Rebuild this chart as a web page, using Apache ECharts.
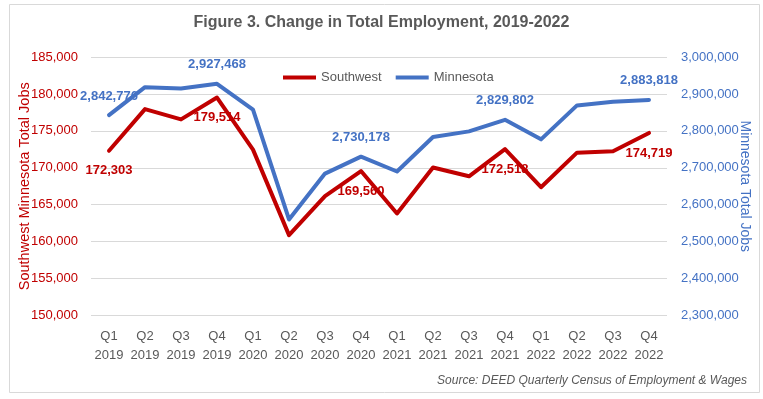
<!DOCTYPE html>
<html>
<head>
<meta charset="utf-8">
<script src="https://cdn.jsdelivr.net/npm/echarts@6/dist/echarts.min.js"></script>
<style>
  html, body { margin: 0; padding: 0; background: #fff; }
  #chart { width: 763px; height: 399px; }
</style>
</head>
<body>
<div id="chart"></div>
<script>
    /* =================== data ============================================ */
    var quarters = ['Q1\n2019', 'Q2\n2019', 'Q3\n2019', 'Q4\n2019',
                    'Q1\n2020', 'Q2\n2020', 'Q3\n2020', 'Q4\n2020',
                    'Q1\n2021', 'Q2\n2021', 'Q3\n2021', 'Q4\n2021',
                    'Q1\n2022', 'Q2\n2022', 'Q3\n2022', 'Q4\n2022'];

    var southwest = [172303, 177950, 176550, 179514,
                     172460, 160880, 166150, 169560,
                     163810, 170030, 168850, 172518,
                     167370, 172050, 172230, 174719];

    var minnesota = [2842776, 2918400, 2914900, 2927468,
                     2857300, 2560000, 2684300, 2730178,
                     2690000, 2783200, 2798600, 2829802,
                     2777000, 2868900, 2878900, 2883818];

    // quarters that carry a value label
    var labelled = [0, 3, 7, 11, 15];

    var leftTicks = { min: 150000, max: 185000, step: 5000 };
    var rightTicks = { min: 2300000, max: 3000000, step: 100000 };

    var FONT = 'Liberation Sans';
    var RED = '#C00000';
    var BLUE = '#4472C4';
    var GREY = '#595959';

    function fmt(v) {
        return Number(v).toLocaleString('en-US');
    }

    function withLabels(values, pos, color) {
        return values.map(function (v, i) {
            return {
                value: v,
                label: {
                    show: labelled.indexOf(i) >= 0,
                    position: pos,
                    distance: pos === 'top' ? 12 : 13,
                    color: color,
                    fontFamily: FONT,
                    fontWeight: 'bold',
                    fontSize: 13,
                    formatter: function (p) { return fmt(p.value); }
                }
            };
        });
    }

    var myChart = echarts.init(document.getElementById('chart'));

    var option = {
        backgroundColor: '#fff',
        animation: false,
        textStyle: { fontFamily: FONT },
        title: [
            {
                text: 'Figure 3. Change in Total Employment, 2019-2022',
                left: 'center',
                top: 10,
                textStyle: { color: GREY, fontSize: 16, fontWeight: 'bold', fontFamily: FONT }
            },
            {
                text: 'Source: DEED Quarterly Census of Employment & Wages',
                right: 11,
                top: 370,
                textStyle: { color: GREY, fontSize: 12, fontStyle: 'italic', fontWeight: 'normal', fontFamily: FONT }
            }
        ],
        graphic: [
            {
                type: 'rect',
                shape: { x: 9.5, y: 4.5, width: 750, height: 388 },
                style: { fill: 'none', stroke: '#D9D9D9', lineWidth: 1 },
                silent: true
            }
        ],
        legend: {
            data: ['Southwest', 'Minnesota'],
            left: 278,
            top: 66,
            icon: 'rect',
            itemWidth: 33,
            itemHeight: 4,
            itemGap: 14,
            textStyle: { color: GREY, fontSize: 13, fontFamily: FONT }
        },
        grid: {
            left: 91,
            right: 96,
            top: 57,
            bottom: 83.5,
            outerBoundsMode: 'none'
        },
        xAxis: {
            type: 'category',
            boundaryGap: true,
            data: quarters,
            axisLine: { show: false },
            axisTick: { show: false },
            axisLabel: {
                interval: 0,
                color: GREY,
                fontSize: 13,
                lineHeight: 19,
                margin: 11,
                fontFamily: FONT
            }
        },
        yAxis: [
            {
                type: 'value',
                position: 'left',
                min: leftTicks.min,
                max: leftTicks.max,
                interval: leftTicks.step,
                name: 'Southwest Minnesota Total Jobs',
                nameLocation: 'middle',
                nameGap: 59,
                nameMoveOverlap: false,
                nameTextStyle: { color: RED, fontSize: 14.5, fontFamily: FONT },
                axisLine: { show: false },
                axisTick: { show: false },
                axisLabel: { color: RED, fontSize: 13, margin: 13, formatter: fmt, fontFamily: FONT },
                splitLine: { lineStyle: { color: '#D9D9D9', width: 1 } }
            },
            {
                type: 'value',
                position: 'right',
                min: rightTicks.min,
                max: rightTicks.max,
                interval: rightTicks.step,
                name: 'Minnesota Total Jobs',
                nameLocation: 'middle',
                nameRotate: -90,
                nameGap: 71,
                nameMoveOverlap: false,
                nameTextStyle: { color: BLUE, fontSize: 14, fontFamily: FONT },
                axisLine: { show: false },
                axisTick: { show: false },
                axisLabel: { color: BLUE, fontSize: 13, margin: 14, formatter: fmt, fontFamily: FONT },
                splitLine: { show: false }
            }
        ],
        series: [
            {
                name: 'Southwest',
                type: 'line',
                yAxisIndex: 0,
                symbol: 'circle',
                symbolSize: 1,
                showSymbol: true,
                color: RED,
                lineStyle: { color: RED, width: 4, join: 'round', cap: 'round' },
                z: 3,
                data: withLabels(southwest, 'bottom', RED)
            },
            {
                name: 'Minnesota',
                type: 'line',
                yAxisIndex: 1,
                symbol: 'circle',
                symbolSize: 1,
                showSymbol: true,
                color: BLUE,
                lineStyle: { color: BLUE, width: 4, join: 'round', cap: 'round' },
                z: 2,
                data: withLabels(minnesota, 'top', BLUE)
            }
        ]
    };

    myChart.setOption(option);
</script>
</body>
</html>
